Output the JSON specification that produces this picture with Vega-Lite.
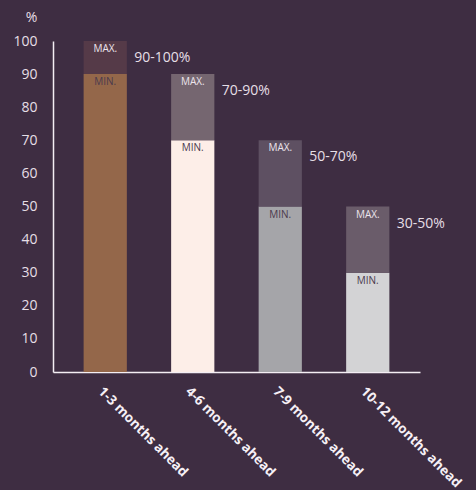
{
  "$schema": "https://vega.github.io/schema/vega-lite/v6.json",
  "width": 367,
  "height": 331,
  "autosize": {"type": "none"},
  "padding": {"left": 53, "top": 41, "right": 56, "bottom": 118},
  "background": "#3e2d42",
  "config": {
    "view": {"stroke": null},
    "font": "Open Sans",
    "axis": {"grid": false, "ticks": false, "domainColor": "#f4eef4", "domainWidth": 1.5, "labelColor": "#e6dfe6", "labelFont": "Open Sans", "titleFont": "Open Sans"}
  },
  "data": {
    "values": [
      {"cat": "1-3 months ahead", "part": "MIN.", "lo": 0, "hi": 90, "key": "a-min", "range": ""},
      {"cat": "1-3 months ahead", "part": "MAX.", "lo": 90, "hi": 100, "key": "a-max", "range": "90-100%"},
      {"cat": "4-6 months ahead", "part": "MIN.", "lo": 0, "hi": 70, "key": "b-min", "range": ""},
      {"cat": "4-6 months ahead", "part": "MAX.", "lo": 70, "hi": 90, "key": "b-max", "range": "70-90%"},
      {"cat": "7-9 months ahead", "part": "MIN.", "lo": 0, "hi": 50, "key": "c-min", "range": ""},
      {"cat": "7-9 months ahead", "part": "MAX.", "lo": 50, "hi": 70, "key": "c-max", "range": "50-70%"},
      {"cat": "10-12 months ahead", "part": "MIN.", "lo": 0, "hi": 30, "key": "d-min", "range": ""},
      {"cat": "10-12 months ahead", "part": "MAX.", "lo": 30, "hi": 50, "key": "d-max", "range": "30-50%"}
    ]
  },
  "encoding": {
    "x": {
      "field": "cat", "type": "nominal", "sort": null,
      "scale": {"paddingInner": 0.506, "paddingOuter": 0.35},
      "axis": {"title": null, "labelAngle": 45, "labelAlign": "left", "labelBaseline": "top", "labelFontSize": 13.5, "labelFontWeight": "bold", "labelColor": "#f6f0f6", "labelPadding": 12, "labelLimit": 300}
    },
    "y": {
      "field": "hi", "type": "quantitative",
      "scale": {"domain": [0, 100]},
      "axis": {"values": [0,10,20,30,40,50,60,70,80,90,100], "labelOverlap": false, "title": "%", "titleAngle": 0, "titleX": -22, "titleY": -24, "titleAlign": "center", "titleBaseline": "middle", "titleColor": "#e6dfe6", "titleFontSize": 14, "titleFontWeight": "normal", "labelFontSize": 14, "labelPadding": 16}
    }
  },
  "layer": [
    {
      "mark": {"type": "bar"},
      "encoding": {
        "y2": {"field": "lo"},
        "color": {
          "field": "key", "type": "nominal", "legend": null,
          "scale": {
            "domain": ["a-min","a-max","b-min","b-max","c-min","c-max","d-min","d-max"],
            "range": ["#94674a","#553a48","#fdeee8","#756670","#a5a5a9","#5e5062","#d3d3d5","#6a5c6a"]
          }
        }
      }
    },
    {
      "mark": {"type": "text", "baseline": "top", "dy": 3, "fontSize": 10},
      "encoding": {
        "text": {"field": "part"},
        "color": {
          "condition": {"test": "datum.part == 'MAX.'", "value": "#ece4ec"},
          "value": "#4b3a4d"
        }
      }
    },
    {
      "transform": [{"filter": "datum.part == 'MAX.'"}],
      "mark": {"type": "text", "align": "left", "baseline": "middle", "dx": 29, "dy": 17, "fontSize": 14, "color": "#e6dfe6"},
      "encoding": {
        "text": {"field": "range"}
      }
    }
  ]
}
